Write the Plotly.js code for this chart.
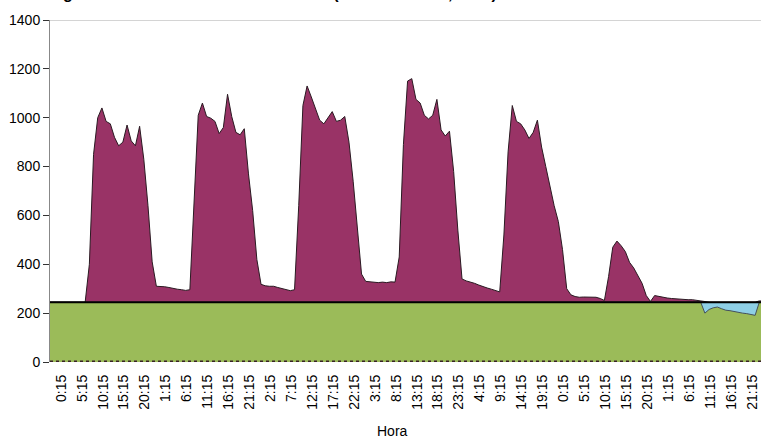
<!DOCTYPE html>
<html><head><meta charset="utf-8">
<script src="https://cdn.plot.ly/plotly-3.0.1.min.js"></script>
<style>html,body{margin:0;padding:0;background:#fff}#chart{width:761px;height:438px}</style>
</head><body><div id="chart"></div>
<script>
// Hourly demand (kW), first value at hour -3 (21:00 of previous day)
const startHour = -3;
const demand = [
  244,244,244,
  244,244,244,244,244,244,244,
  400,850,1000,1040,985,975,920,885,900,970,905,885,965,830,640,410,310,
  310,308,305,300,298,296,293,296,660,1010,1060,1005,998,985,935,960,1096,1005,940,930,955,770,620,420,
  318,312,310,310,305,300,298,292,296,640,1050,1130,1085,1040,990,975,1000,1025,985,990,1005,900,740,565,
  360,330,328,325,325,327,325,328,327,430,890,1150,1160,1075,1060,1010,995,1010,1075,950,925,945,780,540,
  340,332,328,322,315,308,303,298,292,287,520,860,1050,985,975,950,915,940,990,880,800,713,640,575,
  460,300,275,268,265,266,265,266,265,260,252,350,470,495,476,452,408,385,356,322,272,248,272,268,
  265,262,260,258,258,256,255,255,252,250,200,215,222,225,218,212,210,206,205,200,198,195,191,250,250
];
const baseLoad = 245;
const tickHours = [0.25,5.25,10.25,15.25,20.25,25.25,30.25,35.25,40.25,45.25,50.25,55.25,60.25,65.25,70.25,75.25,80.25,85.25,90.25,95.25,100.25,105.25,110.25,115.25,120.25,125.25,130.25,135.25,140.25,145.25,150.25,155.25,160.25,165.25];
const tickLabels = ["0:15","5:15","10:15","15:15","20:15","1:15","6:15","11:15","16:15","21:15","2:15","7:15","12:15","17:15","22:15","3:15","8:15","13:15","18:15","23:15","4:15","9:15","14:15","19:15","0:15","5:15","10:15","15:15","20:15","1:15","6:15","11:15","16:15","21:15"];
const yTicks = [0,200,400,600,800,1000,1200,1400];
const chartTitle = "Diagrama de demanda eléctrica media (semana del 14, 2011)";
const xTitle = "Hora";

const hours = demand.map((_, i) => startHour + i);
const base = demand.map(() => baseLoad);
const upper = demand.map(v => Math.max(v, baseLoad));
const lower = demand.map(v => Math.min(v, baseLoad));

const FONT = '"Liberation Sans", Arial, sans-serif';

const traces = [
  {x: hours, y: base, mode: 'lines', fill: 'tozeroy', fillcolor: '#9BBB59', line: {width: 0, color: '#9BBB59'}},
  {x: hours, y: upper, mode: 'lines', fill: 'tonexty', fillcolor: '#993366', line: {width: 1, color: '#2a1a22'}},
  {x: hours, y: base, mode: 'lines', line: {width: 0, color: 'rgba(0,0,0,0)'}},
  {x: hours, y: lower, mode: 'lines', fill: 'tonexty', fillcolor: '#8ECFE6', line: {width: 1, color: '#44505a'}},
  {x: hours, y: base, mode: 'lines', line: {width: 2, color: '#000'}}
];

const layout = {
  width: 761, height: 438,
  margin: {l: 50, r: 0, t: 20, b: 76, pad: 0},
  paper_bgcolor: '#fff', plot_bgcolor: '#fff',
  showlegend: false, hovermode: false,
  font: {family: FONT, size: 14, color: '#000'},
  xaxis: {
    range: [-2.4, 167.4], tickmode: 'array', tickvals: tickHours, ticktext: tickLabels,
    tickangle: -90, ticks: '', showline: false, showgrid: false, zeroline: false,
    ticklabelstandoff: 9, tickfont: {family: FONT, size: 14, color: '#000'}
  },
  yaxis: {
    range: [0, 1400], tickmode: 'array', tickvals: yTicks,
    ticks: 'outside', ticklen: 6, tickcolor: '#333', tickwidth: 1,
    showline: true, linecolor: '#888', linewidth: 1,
    showgrid: false, zeroline: false,
    tickfont: {family: FONT, size: 14, color: '#000'}
  },
  shapes: [
    {type: 'line', xref: 'paper', yref: 'y', x0: 0, x1: 1, y0: 1400, y1: 1400, line: {color: '#aaa', width: 1}},
    {type: 'line', xref: 'paper', yref: 'y', x0: 0, x1: 1, y0: 0, y1: 0, line: {color: '#3a2228', width: 3, dash: 'dot'}}
  ],
  annotations: [
    {text: chartTitle, xref: 'paper', yref: 'paper', x: -0.0197, y: 1.0477, xanchor: 'left', yanchor: 'bottom',
     showarrow: false, font: {family: FONT, size: 16, color: '#000', weight: 'bold'}},
    {text: xTitle, xref: 'paper', yref: 'paper', x: 0.4824, y: -0.2018, xanchor: 'center', yanchor: 'middle',
     showarrow: false, font: {family: FONT, size: 14, color: '#000'}}
  ]
};

Plotly.newPlot('chart', traces, layout, {staticPlot: true, displayModeBar: false});
</script>
</body></html>
